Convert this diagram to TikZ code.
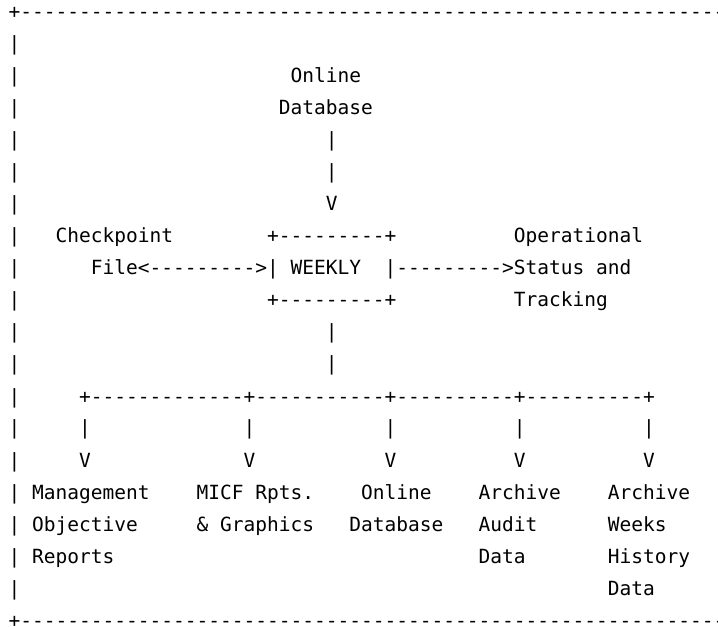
\documentclass[tikz,border=0pt]{standalone}
\usepackage{fontspec}
% monospaced face for the character drawing; no TeX ligatures so "--" stays two hyphens
\newfontfamily\asciifont{DejaVu Sans Mono}[Ligatures=TeXOff]
\tikzset{
  ascii/.style={anchor=base west, inner sep=0pt, outer sep=0pt,
    font=\asciifont\fontsize{14.64pt}{17pt}\selectfont, text=black},
}
% \cell{column}{row}{name}{text}: one character cell is 11.75 x 32 px
\newcommand\cell[4]{\node[ascii] (#3) at ({8.6+11.75*(#1)},{-(19+32*(#2))}) {#4};}
\begin{document}
\begin{tikzpicture}[x=0.75pt,y=0.75pt]
  \useasboundingbox (0,0) rectangle (718,-627);
  \clip (0,0) rectangle (718,-627);
  \fill[white] (0,0) rectangle (718,-627);

  % frame (runs on past the right edge)
  \cell{0}{0}{topedge}{+----------------------------------------------------------------------}
  \foreach \r in {1,...,18} {\cell{0}{\r}{side\r}{|}}
  \cell{0}{19}{bottomedge}{+----------------------------------------------------------------------}

  % online database feeding the weekly run
  \cell{24}{2}{srcA}{Online}
  \cell{23}{3}{srcB}{Database}
  \cell{27}{4}{inA}{|}
  \cell{27}{5}{inB}{|}
  \cell{27}{6}{inV}{V}

  % weekly box with its two side links
  \cell{4}{7}{ckA}{Checkpoint}
  \cell{22}{7}{boxtop}{+---------+}
  \cell{43}{7}{opA}{Operational}
  \cell{7}{8}{ckB}{File}
  \cell{11}{8}{leftlink}{<--------->}
  \cell{22}{8}{weekly}{| WEEKLY}
  \cell{32}{8}{boxright}{|}
  \cell{33}{8}{rightlink}{--------->}
  \cell{43}{8}{opB}{Status and}
  \cell{22}{9}{boxbot}{+---------+}
  \cell{43}{9}{opC}{Tracking}

  % trunk down to the distribution bar
  \cell{27}{10}{outA}{|}
  \cell{27}{11}{outB}{|}
  \cell{6}{12}{bar}{+-------------+-----------+----------+----------+}

  % five drops
  \foreach \c [count=\i] in {6,20,32,43,54} {
    \cell{\c}{13}{drop\i}{|}
    \cell{\c}{14}{tip\i}{V}
  }

  % outputs
  \cell{2}{15}{mgA}{Management}
  \cell{2}{16}{mgB}{Objective}
  \cell{2}{17}{mgC}{Reports}
  \cell{16}{15}{micfA}{MICF Rpts.}
  \cell{16}{16}{micfB}{\& Graphics}
  \cell{30}{15}{dbA}{Online}
  \cell{29}{16}{dbB}{Database}
  \cell{40}{15}{auA}{Archive}
  \cell{40}{16}{auB}{Audit}
  \cell{40}{17}{auC}{Data}
  \cell{51}{15}{whA}{Archive}
  \cell{51}{16}{whB}{Weeks}
  \cell{51}{17}{whC}{History}
  \cell{51}{18}{whD}{Data}
\end{tikzpicture}
\end{document}
